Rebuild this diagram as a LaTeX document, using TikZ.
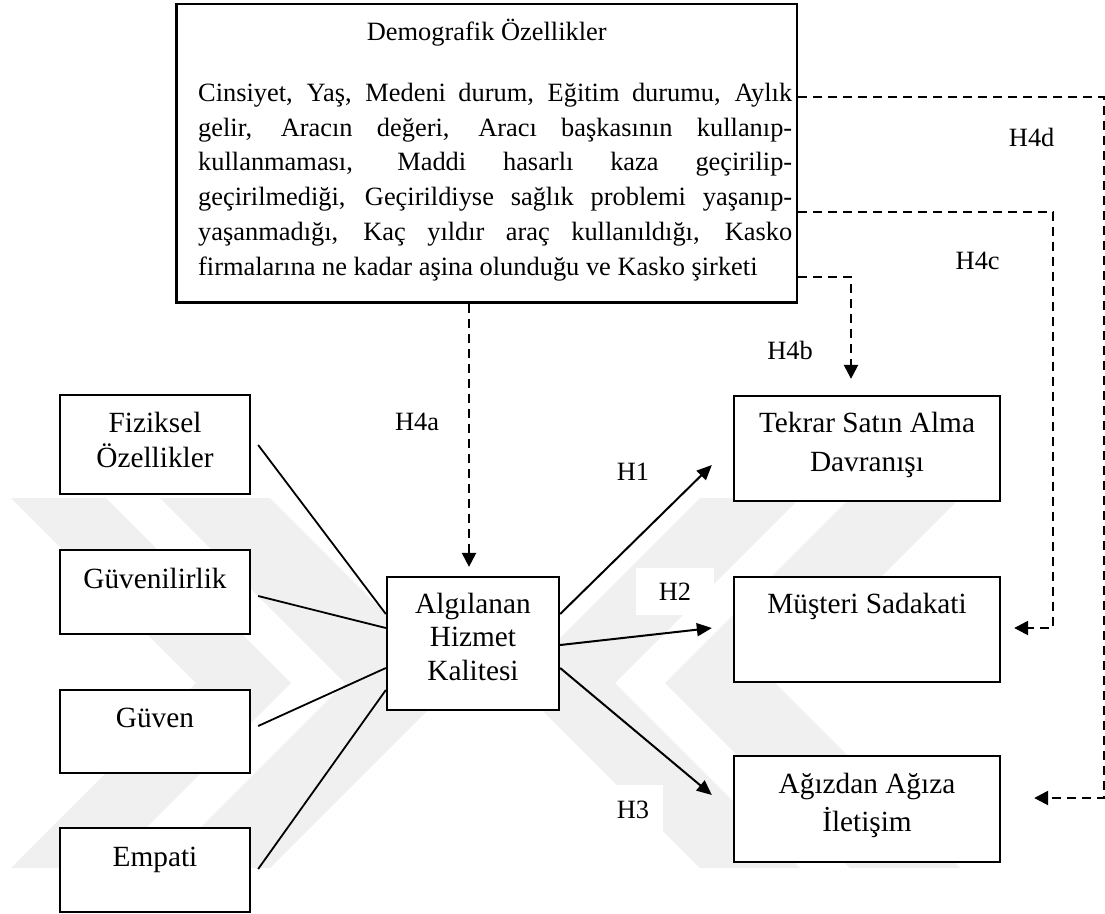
\documentclass[tikz,border=0pt]{standalone}
\usepackage{fontspec}
\setmainfont{Liberation Serif}
\usetikzlibrary{arrows.meta,calc}
\begin{document}
\begin{tikzpicture}[x=1pt,y=-1pt,
  box/.style={draw=black, line width=2.3pt, fill=white, inner sep=0pt},
  btxt/.style={anchor=base, inner sep=0pt, font=\fontsize{29.3}{35}\selectfont},
  ptxt/.style={anchor=base west, inner sep=0pt, font=\fontsize{26.4}{34.7}\selectfont},
  lbl/.style={inner sep=0pt, font=\fontsize{26.4}{34.7}\selectfont},
  conn/.style={line width=1.8pt},
  arr/.style={line width=2pt, -{Triangle[length=15pt,width=13pt]}},
  darr/.style={line width=2.4pt, dash pattern=on 9pt off 6pt, -{Triangle[length=14pt,width=14pt]}},
  wm/.style={fill=black!6, draw=none}
]
\useasboundingbox (0,0) rectangle (1105,913);
\fill[white] (0,0) rectangle (1105,913);

% watermark
\fill[wm] (11,498) -- (106,498) -- (291,683) -- (106,868) -- (11,868) -- (196,683) -- cycle;
\fill[wm] (160,498) -- (270,498) -- (455,683) -- (270,868) -- (160,868) -- (345,683) -- cycle;
\fill[wm] (800,498) -- (700,498) -- (515,683) -- (700,868) -- (800,868) -- (615,683) -- cycle;
\fill[wm] (960,498) -- (850,498) -- (665,683) -- (850,868) -- (960,868) -- (775,683) -- cycle;

% boxes
\node[box, minimum width=620.5pt, minimum height=298.5pt] (demo) at (486.75,153.25) {};
\node[box, minimum width=190pt, minimum height=99pt] (fiz) at (155,444.5) {};
\node[box, minimum width=190pt, minimum height=84pt] (guvr) at (155,592) {};
\node[box, minimum width=190pt, minimum height=83pt] (guv) at (155,731.5) {};
\node[box, minimum width=190pt, minimum height=84pt] (emp) at (155,870) {};
\node[box, minimum width=172pt, minimum height=133pt] (alg) at (473,643.5) {};
\node[box, minimum width=266pt, minimum height=105pt] (tek) at (867,448.5) {};
\node[box, minimum width=266pt, minimum height=105pt] (mus) at (867,629.5) {};
\node[box, minimum width=266pt, minimum height=106pt] (agz) at (867,809) {};

% demographic text
\node[lbl, anchor=base] (demoT) at (486.75,40) {Demografik Özellikler};
\node[ptxt] (p1) at (198,101.7) {\makebox[594pt][s]{Cinsiyet, Yaş, Medeni durum, Eğitim durumu, Aylık}};
\node[ptxt] (p2) at (198,136.7) {\makebox[594pt][s]{gelir, Aracın değeri, Aracı başkasının kullanıp-}};
\node[ptxt] (p3) at (198,170.5) {\makebox[594pt][s]{kullanmaması, Maddi hasarlı kaza geçirilip-}};
\node[ptxt] (p4) at (198,205.2) {\makebox[594pt][s]{geçirilmediği, Geçirildiyse sağlık problemi yaşanıp-}};
\node[ptxt] (p5) at (198,240) {\makebox[594pt][s]{yaşanmadığı, Kaç yıldır araç kullanıldığı, Kasko}};
\node[ptxt] (p6) at (198,275) {firmalarına ne kadar aşina olunduğu ve Kasko şirketi};

% box texts
\node[btxt] (fizA) at (155,432.4) {Fiziksel};
\node[btxt] (fizB) at (155,467.2) {Özellikler};
\node[btxt] (guvrT) at (155,588.3) {Güvenilirlik};
\node[btxt] (guvT) at (155,727.7) {Güven};
\node[btxt] (empT) at (155,866) {Empati};
\node[btxt] (algA) at (473,613.3) {Algılanan};
\node[btxt] (algB) at (473,646.7) {Hizmet};
\node[btxt] (algC) at (473,680.7) {Kalitesi};
\node[btxt] (tekA) at (867,432.7) {Tekrar Satın Alma};
\node[btxt] (tekB) at (867,471.8) {Davranışı};
\node[btxt] (musT) at (867,613.3) {Müşteri Sadakati};
\node[btxt] (agzA) at (867,793.3) {Ağızdan Ağıza};
\node[btxt] (agzB) at (867,831.7) {İletişim};

% solid connectors into the central box
\draw[conn] ($(fiz.east)+(7,0.5)$) -- ($(alg.west)+(0,-29.5)$);
\draw[conn] ($(guvr.east)+(7,4)$) -- ($(alg.west)+(0,-15.5)$);
\draw[conn] ($(guv.east)+(7,-5.5)$) -- ($(alg.west)+(0,24.5)$);
\draw[conn] ($(emp.east)+(7,-1)$) -- ($(alg.west)+(0,46.5)$);

% hypotheses arrows
\draw[arr] ($(alg.east)+(0,-29.5)$) -- ($(tek.west)+(-21,16.5)$);
\draw[arr] ($(alg.east)+(0,1.5)$) -- ($(mus.west)+(-21,-1.5)$);
\draw[arr] ($(alg.east)+(0,24.5)$) -- ($(agz.west)+(-21,-14)$);

% dashed moderator arrows
\draw[darr] ($(demo.south)+(-17.75,0)$) -- ($(alg.north)+(-4,-9)$);
\draw[darr] ($(demo.east)+(0,123.75)$) -| ($(tek.north)+(-16,-16)$);
\draw[darr] ($(demo.east)+(0,58.45)$) -| ($(mus.east)+(52,-1.5)$) -- ($(mus.east)+(13,-1.5)$);
\draw[darr] ($(demo.east)+(0,-56.55)$) -| ($(agz.east)+(103,-11)$) -- ($(agz.east)+(33,-11)$);

% labels
\node[lbl] (h1) at (633,472) {H1};
\node[lbl, fill=white, minimum width=78pt, minimum height=47pt] (h2) at (675,591.3) {H2};
\node[lbl, fill=white, minimum width=60pt, minimum height=50pt] (h3) at (633,809.6) {H3};
\node[lbl, anchor=base] (h4a) at (417,430.7) {H4a};
\node[lbl, anchor=base] (h4b) at (790,359.3) {H4b};
\node[lbl, anchor=base] (h4c) at (977.7,269.3) {H4c};
\node[lbl, anchor=base] (h4d) at (1031.7,146.7) {H4d};
\end{tikzpicture}
\end{document}
